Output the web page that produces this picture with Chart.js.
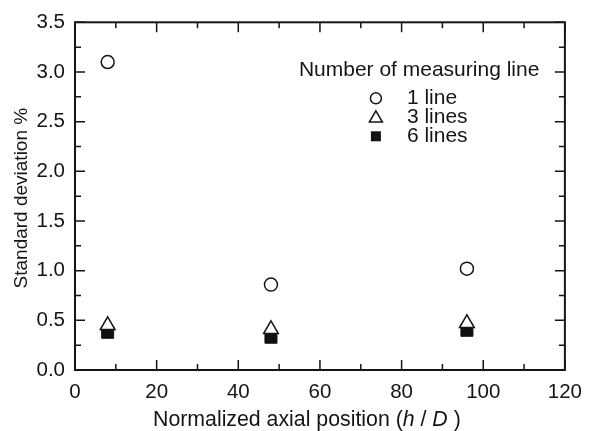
<!DOCTYPE html>
<html>
<head>
<meta charset="utf-8">
<script src="https://cdn.jsdelivr.net/npm/chart.js@4/dist/chart.umd.min.js"></script>
<style>
  html, body { margin: 0; padding: 0; background: #fff; }
  #wrap { width: 592px; height: 431px; position: relative; }
</style>
</head>
<body>
<div id="wrap"><canvas id="sdChart"></canvas></div>
<script>
const FONT = '"Liberation Sans", Arial, Helvetica, sans-serif';
const INK = '#151515';

// axial positions h/D where the deviation was measured
const positions = [8, 48, 96];
const oneLine = [3.10, 0.86, 1.02];
const threeLines = [0.45, 0.41, 0.47];
const sixLines = [0.38, 0.33, 0.40];

const xTicks = [0, 20, 40, 60, 80, 100, 120];
const yTicks = [0.0, 0.5, 1.0, 1.5, 2.0, 2.5, 3.0, 3.5];

const seriesNames = ['1 line', '3 lines', '6 lines'];

function pts(ys) {
  return positions.map((x, i) => ({ x, y: ys[i] }));
}

// frame on all four sides with inward major/minor ticks
const frameTicks = {
  id: 'frameTicks',
  afterDatasetsDraw(chart) {
    const { ctx, chartArea: ca, scales } = chart;
    const xs = scales.x, ys = scales.y;
    ctx.save();
    ctx.strokeStyle = INK;
    ctx.lineWidth = 2;
    ctx.strokeRect(ca.left, ca.top, ca.right - ca.left, ca.bottom - ca.top);

    ctx.lineWidth = 1.5;
    ctx.beginPath();
    for (let i = 0; i < xTicks.length; i++) {
      const px = xs.getPixelForValue(xTicks[i]);
      ctx.moveTo(px, ca.bottom); ctx.lineTo(px, ca.bottom - 10);
      ctx.moveTo(px, ca.top); ctx.lineTo(px, ca.top + 10);
      if (i < xTicks.length - 1) {
        const mx = xs.getPixelForValue((xTicks[i] + xTicks[i + 1]) / 2);
        ctx.moveTo(mx, ca.bottom); ctx.lineTo(mx, ca.bottom - 6);
        ctx.moveTo(mx, ca.top); ctx.lineTo(mx, ca.top + 6);
      }
    }
    for (let i = 0; i < yTicks.length; i++) {
      const py = ys.getPixelForValue(yTicks[i]);
      ctx.moveTo(ca.left, py); ctx.lineTo(ca.left + 10, py);
      ctx.moveTo(ca.right, py); ctx.lineTo(ca.right - 10, py);
      if (i < yTicks.length - 1) {
        const my = ys.getPixelForValue((yTicks[i] + yTicks[i + 1]) / 2);
        ctx.moveTo(ca.left, my); ctx.lineTo(ca.left + 6, my);
        ctx.moveTo(ca.right, my); ctx.lineTo(ca.right - 6, my);
      }
    }
    ctx.stroke();
    ctx.restore();
  },
  afterDraw(chart) {
    const { ctx, chartArea: ca } = chart;
    ctx.save();
    ctx.fillStyle = INK;

    // x axis title with italic h and D
    const parts = [
      ['Normalized axial position (', ''],
      ['h', 'italic '],
      [' / ', ''],
      ['D', 'italic '],
      [' )', '']
    ];
    let x = ca.left + 78;
    const base = ca.bottom + 56;
    ctx.textBaseline = 'alphabetic';
    ctx.textAlign = 'left';
    parts.forEach(([t, st]) => {
      ctx.font = st + '21.3px ' + FONT;
      ctx.fillText(t, x, base);
      x += ctx.measureText(t).width;
    });

    // y axis title
    ctx.translate(26.5, (ca.top + ca.bottom) / 2 + 2);
    ctx.rotate(-Math.PI / 2);
    ctx.textAlign = 'center';
    ctx.font = '19px ' + FONT;
    ctx.fillText('Standard deviation %', 0, 0);
    ctx.restore();

    // legend block
    ctx.save();
    const lx = ca.right - 266;
    ctx.fillStyle = INK;
    ctx.font = '21px ' + FONT;
    ctx.textAlign = 'left';
    ctx.textBaseline = 'middle';
    ctx.fillText('Number of measuring line', lx, ca.top + 48);

    const mx = ca.right - 189;
    const tx = ca.right - 158;
    const rowY = [ca.top + 76, ca.top + 95, ca.top + 114];
    ctx.strokeStyle = INK;
    ctx.lineWidth = 1.5;

    ctx.beginPath();
    ctx.arc(mx, rowY[0], 5.5, 0, Math.PI * 2);
    ctx.fillStyle = '#fff';
    ctx.fill();
    ctx.stroke();

    const r = 7.5, cy = rowY[1] + 1;
    ctx.beginPath();
    ctx.moveTo(mx, cy - r);
    ctx.lineTo(mx + r * 0.866, cy + r / 2);
    ctx.lineTo(mx - r * 0.866, cy + r / 2);
    ctx.closePath();
    ctx.fill();
    ctx.stroke();

    ctx.fillStyle = '#111';
    ctx.fillRect(mx - 5, rowY[2] - 5, 10, 10);

    ctx.fillStyle = INK;
    seriesNames.forEach((n, i) => ctx.fillText(n, tx, rowY[i]));
    ctx.restore();
  }
};

new Chart(document.getElementById('sdChart'), {
  type: 'scatter',
  data: {
    datasets: [
      {
        label: seriesNames[0],
        data: pts(oneLine),
        pointStyle: 'circle',
        pointRadius: 6.5,
        pointBorderWidth: 1.5,
        borderColor: INK,
        backgroundColor: '#fff'
      },
      {
        label: seriesNames[1],
        data: pts(threeLines),
        pointStyle: 'triangle',
        pointRadius: 8.5,
        pointBorderWidth: 1.5,
        borderColor: INK,
        backgroundColor: '#fff'
      },
      {
        label: seriesNames[2],
        data: pts(sixLines),
        pointStyle: 'rect',
        pointRadius: 8.5,
        pointBorderWidth: 1,
        borderColor: '#111',
        backgroundColor: '#111'
      }
    ]
  },
  options: {
    responsive: true,
    maintainAspectRatio: false,
    animation: false,
    layout: { padding: { top: 16, right: 24, left: 0, bottom: 0 } },
    plugins: {
      legend: { display: false },
      tooltip: { enabled: false }
    },
    scales: {
      x: {
        type: 'linear',
        min: 0,
        max: 120,
        afterFit: s => { s.height = 61; },
        afterBuildTicks: s => { s.ticks = xTicks.map(v => ({ value: v })); },
        grid: { display: false, drawTicks: false },
        border: { display: false },
        ticks: {
          padding: 10,
          color: INK,
          font: { family: FONT, size: 20.5 },
          maxRotation: 0,
          callback: v => String(v)
        }
      },
      y: {
        type: 'linear',
        min: 0,
        max: 3.5,
        afterFit: s => { s.width = 75; },
        afterBuildTicks: s => { s.ticks = yTicks.map(v => ({ value: v })); },
        grid: { display: false, drawTicks: false },
        border: { display: false },
        ticks: {
          padding: 10,
          color: INK,
          font: { family: FONT, size: 20.5 },
          callback: v => Number(v).toFixed(1)
        }
      }
    }
  },
  plugins: [frameTicks]
});
</script>
</body>
</html>
